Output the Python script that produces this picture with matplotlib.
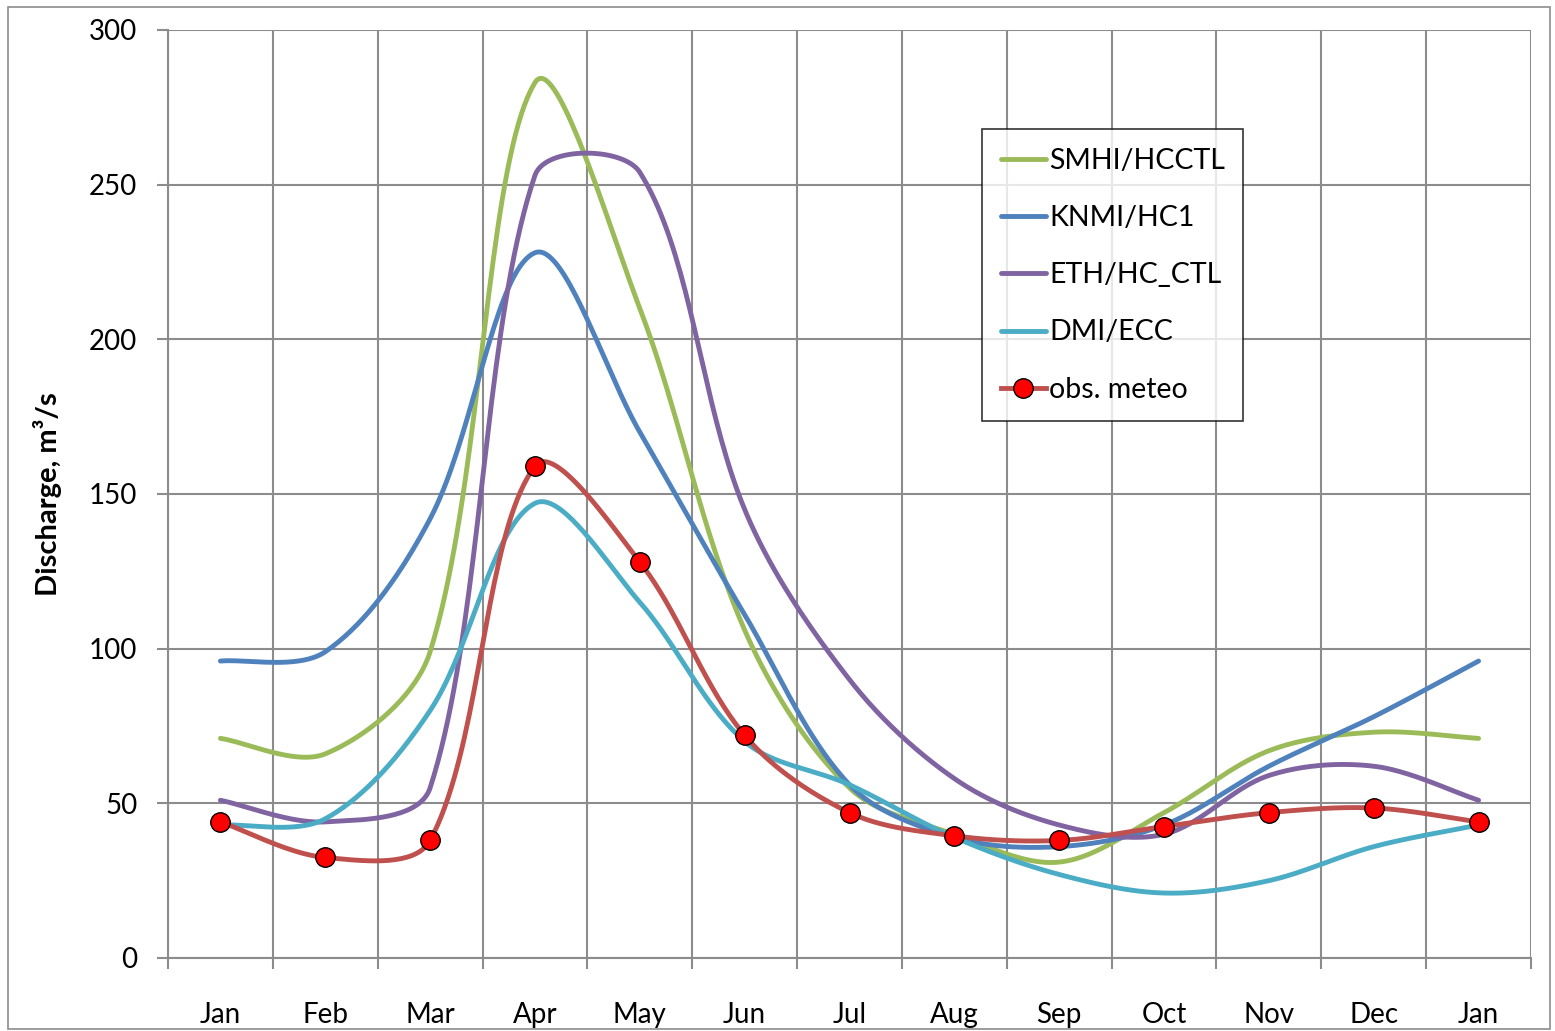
import numpy as np
import matplotlib.pyplot as plt
from matplotlib.patches import Rectangle

months = ["Jan", "Feb", "Mar", "Apr", "May", "Jun", "Jul",
          "Aug", "Sep", "Oct", "Nov", "Dec", "Jan"]

smhi = [71, 66, 99, 283, 210, 106, 55, 40, 31, 47, 67, 73, 71]
knmi = [96, 99, 142, 228, 170, 111, 56, 39, 36, 43, 62, 78, 96]
eth = [51, 44, 55, 253, 254, 145, 90, 58, 43, 40, 59, 62, 51]
dmi = [43, 45, 80, 147, 115, 70, 56, 39, 27, 21, 25, 36, 43]
obs = [44, 32.5, 38, 159, 128, 72, 47, 39.5, 38, 42.5, 47, 48.5, 44]

series = [
    ("SMHI/HCCTL", smhi, "#9BBB59"),
    ("KNMI/HC1", knmi, "#4F81BD"),
    ("ETH/HC_CTL", eth, "#8064A2"),
    ("DMI/ECC", dmi, "#4BACC6"),
]

plt.rcParams["font.family"] = ["Lato", "DejaVu Sans"]


def smooth(y, n=40, sx=105.0, sy=3.09):
    """Excel-like smoothed line: cubic Bezier, tangents scaled by chord length."""
    y = np.asarray(y, dtype=float)
    x = np.arange(len(y), dtype=float)
    pts = np.column_stack([x, y])
    ext = np.vstack([pts[0], pts, pts[-1]])
    scale = np.array([sx, sy])

    def dist(a, b):
        return np.hypot(*((a - b) * scale))

    t = np.linspace(0, 1, n)[:, None]
    out = []
    for i in range(len(pts) - 1):
        pm, p0, p3, pp = ext[i], ext[i + 1], ext[i + 2], ext[i + 3]
        d01, d12, d23 = dist(pm, p0), dist(p0, p3), dist(p3, pp)
        f1 = 2 * d12 / (d01 + d12) if d01 + d12 > 0 else 1
        f2 = 2 * d12 / (d12 + d23) if d12 + d23 > 0 else 1
        p1 = p0 + (p3 - pm) / 6 * min(f1, 1.5)
        p2 = p3 - (pp - p0) / 6 * min(f2, 1.5)
        seg = ((1 - t) ** 3) * p0 + 3 * ((1 - t) ** 2) * t * p1 \
            + 3 * (1 - t) * t ** 2 * p2 + t ** 3 * p3
        out.append(seg if i == 0 else seg[1:])
    out = np.vstack(out)
    return out[:, 0], out[:, 1]


fig = plt.figure(figsize=(15.55, 10.31), dpi=100)
ax = fig.add_axes([168 / 1555, 73 / 1031, 1363 / 1555, 928 / 1031])

# outer chart border
fig.patches.append(Rectangle((8 / 1555, 2 / 1031), 1542 / 1555, 1022 / 1031,
                             transform=fig.transFigure, fill=False,
                             edgecolor="#8c8c8c", linewidth=1.2))

for name, vals, col in series:
    xs, ys = smooth(vals)
    ax.plot(xs, ys, color=col, linewidth=3.5, solid_capstyle="round", label=name)

xs, ys = smooth(obs)
ax.plot(xs, ys, color="#C0504D", linewidth=3.5, solid_capstyle="round")
ax.plot(range(len(obs)), obs, linestyle="none", marker="o", markersize=14,
        markerfacecolor="#FF0000", markeredgecolor="black", markeredgewidth=1)
ax.plot([], [], color="#C0504D", linewidth=3.5, marker="o", markersize=14,
        markerfacecolor="#FF0000", markeredgecolor="black", markeredgewidth=1,
        label="obs. meteo")

ax.set_xlim(-0.5, len(months) - 0.5)
ax.set_ylim(0, 300)
ax.set_yticks(np.arange(0, 301, 50))
ax.set_xticks(np.arange(len(months)))
ax.set_xticklabels(months)
ax.set_xticks(np.arange(len(months) + 1) - 0.5, minor=True)

ax.tick_params(axis="x", which="major", length=0, pad=32, labelsize=20)
ax.tick_params(axis="x", which="minor", length=8, width=1.5, color="#8c8c8c")
ax.tick_params(axis="y", length=8, width=1.5, color="#8c8c8c", pad=14, labelsize=20)

ax.grid(True, axis="y", color="#8c8c8c", linewidth=1.5)
ax.grid(True, axis="x", which="minor", color="#8c8c8c", linewidth=1.5)
ax.set_axisbelow(True)
for side in ["top", "right"]:
    ax.spines[side].set_visible(False)
for side in ["left", "bottom"]:
    ax.spines[side].set_color("#8c8c8c")
    ax.spines[side].set_linewidth(1.5)

ax.set_ylabel("Discharge, m\u00b3/s", fontsize=21, fontweight="bold")
ax.yaxis.set_label_coords(-0.078, 0.5)

leg = ax.legend(loc="upper left", bbox_to_anchor=((982 - 168) / 1363, (958 - 129) / 928),
                fontsize=20.5, frameon=True, fancybox=False, edgecolor="black",
                handlelength=1.6, handletextpad=0.1, labelspacing=1.1,
                borderpad=0.65, borderaxespad=0)
leg.get_frame().set_linewidth(1.2)

fig.savefig("out.png", dpi=100, facecolor="white")
